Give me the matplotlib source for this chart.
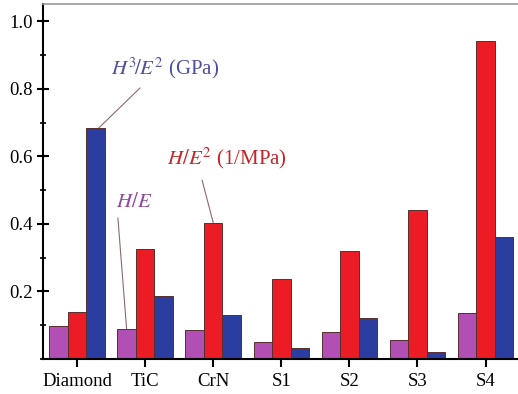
import numpy as np
import matplotlib
matplotlib.use('Agg')
import matplotlib.pyplot as plt
from matplotlib.ticker import MultipleLocator

plt.rcParams['font.family'] = 'Liberation Serif'
plt.rcParams['mathtext.fontset'] = 'stix'

# Данные
categories = ['Diamond', 'TiC', 'CrN', 'S1', 'S2', 'S3', 'S4']
h_e = [0.099, 0.089, 0.085, 0.051, 0.080, 0.056, 0.136]
h_e2 = [0.138, 0.325, 0.404, 0.237, 0.321, 0.440, 0.943]
h3_e2 = [0.685, 0.187, 0.130, 0.033, 0.120, 0.021, 0.360]

c_purple = '#B24FB4'
c_red = '#EC1C24'
c_blue = '#2B3D9E'
edge = '#5a2e2e'

fig = plt.figure(figsize=(5.18, 3.94), dpi=100)
ax = fig.add_axes([0.083, 0.089, 0.917, 0.901])

x = np.arange(len(categories))
w = 0.272
ax.bar(x - w, h_e, w, color=c_purple, edgecolor=edge, linewidth=0.7)
ax.bar(x, h_e2, w, color=c_red, edgecolor=edge, linewidth=0.7)
ax.bar(x + w, h3_e2, w, color=c_blue, edgecolor=edge, linewidth=0.7)

ax.set_xlim(-0.5, 6.476)
ax.set_ylim(0, 1.052)
ax.set_xticks(x)
ax.set_xticklabels(categories, fontsize=13.5)
ax.yaxis.set_minor_locator(MultipleLocator(0.1))
ax.set_yticks([0.2, 0.4, 0.6, 0.8, 1.0])
ax.set_yticklabels(['0.2', '0.4', '0.6', '0.8', '1.0'], fontsize=13.5)
ax.tick_params(axis='x', direction='out', length=6, width=1.5, pad=4)
ax.tick_params(axis='y', which='major', direction='inout', length=8, width=1.5)
ax.tick_params(axis='y', which='minor', direction='inout', length=5, width=1.2)

ax.spines['left'].set_linewidth(1.5)
ax.spines['bottom'].set_linewidth(1.5)
ax.spines['top'].set_color('#999999')
ax.spines['top'].set_linewidth(1.2)
ax.spines['right'].set_visible(False)

line_c = '#8a6a6a'
# Подписи серий
ax.text(1.29, 0.845, r'$H^3\!/E^2$ (GPa)', color='#4E50A0', fontsize=15,
        ha='center', va='baseline')
ax.annotate('', xy=(0 + w + 0.05, h3_e2[0]), xytext=(0.925, 0.803),
            arrowprops=dict(arrowstyle='-', color=line_c, lw=0.8,
                            shrinkA=0, shrinkB=0))

ax.text(2.20, 0.578, r'$H/E^2$ (1/MPa)', color='#C4262A', fontsize=15,
        ha='center', va='baseline')
ax.annotate('', xy=(2, h_e2[2]), xytext=(1.836, 0.530),
            arrowprops=dict(arrowstyle='-', color=line_c, lw=0.8,
                            shrinkA=0, shrinkB=0))

ax.text(0.837, 0.449, r'$H/E$', color='#9048A0', fontsize=15,
        ha='center', va='baseline')
ax.annotate('', xy=(1 - w, h_e[1]), xytext=(0.60, 0.418),
            arrowprops=dict(arrowstyle='-', color=line_c, lw=0.8,
                            shrinkA=0, shrinkB=0))

fig.savefig('out.png', dpi=100)
